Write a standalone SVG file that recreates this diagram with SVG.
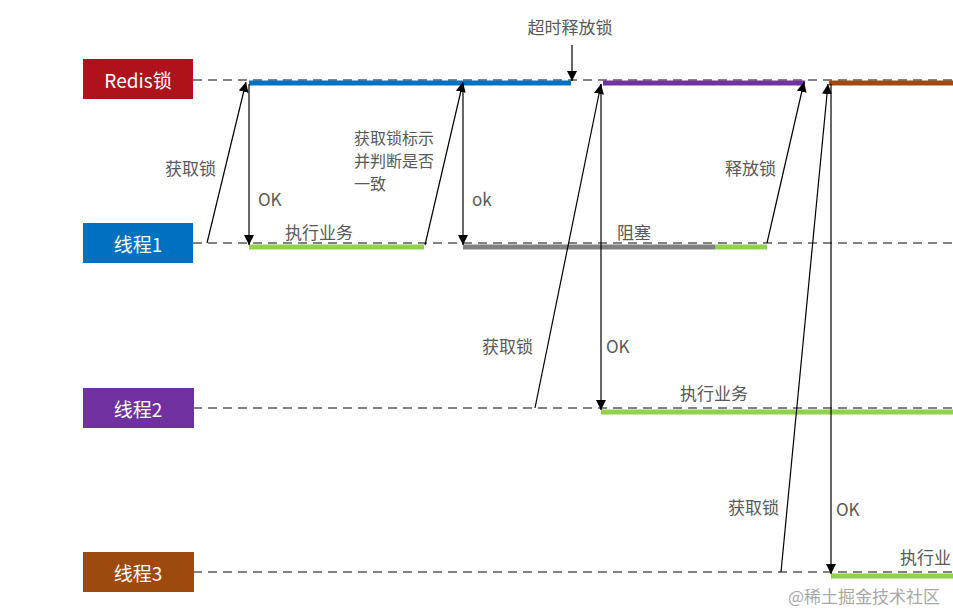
<svg xmlns="http://www.w3.org/2000/svg" width="953" height="610" viewBox="0 0 953 610">
<defs>
<marker id="ah" viewBox="0 0 10 10" refX="10" refY="5" markerWidth="10" markerHeight="10" markerUnits="userSpaceOnUse" orient="auto">
<path d="M0,0 L10,5 L0,10 z" fill="#000"/>
</marker>
<style>
.box text{font-family:"Noto Sans CJK SC","Noto Sans",sans-serif;font-size:19px;fill:#fff;text-anchor:middle;dominant-baseline:central}
.lbl{font-family:"Noto Sans CJK SC","Noto Sans",sans-serif;font-size:17px;fill:#595959;dominant-baseline:central}
.ml{font-size:16px}
.dash{stroke:#595959;stroke-width:1.5;stroke-dasharray:9,6;fill:none}
.bar{stroke-width:5;fill:none}
.arr{stroke:#000;stroke-width:1.2;fill:none;marker-end:url(#ah)}
</style>
</defs>
<rect width="953" height="610" fill="#fff"/>
<g id="redis" class="box"><rect x="83" y="59" width="110" height="40" fill="#B0121B"/><text x="138" y="79">Redis锁</text></g>
<g id="t1" class="box"><rect x="83" y="223" width="110" height="40" fill="#0070C0"/><text x="138" y="243">线程1</text></g>
<g id="t2" class="box"><rect x="83" y="388" width="111" height="40" fill="#7030A0"/><text x="138" y="408">线程2</text></g>
<g id="t3" class="box"><rect x="83" y="552" width="111" height="40" fill="#9C4A0E"/><text x="138" y="572">线程3</text></g>
<g id="connectors">
<path class="dash" d="M193,80 H953"/>
<path class="dash" d="M193,243 H953"/>
<path class="dash" d="M193,408 H953"/>
<path class="dash" d="M193,572 H953"/>
<path class="bar" stroke="#0070C0" d="M249,83 H571"/>
<path class="bar" stroke="#7030A0" d="M603,83 H805"/>
<path class="bar" stroke="#9C4A0E" d="M829,83 H953"/>
<path class="bar" stroke="#92D050" d="M249,247 H424"/>
<path class="bar" stroke="#808080" d="M463,247 H715"/>
<path class="bar" stroke="#92D050" d="M715,247 H767"/>
<path class="bar" stroke="#92D050" d="M601,412 H953"/>
<path class="bar" stroke="#92D050" d="M831,576 H953"/>
<path class="arr" d="M207,243 L246,82"/>
<path class="arr" d="M249,84 V245"/>
<path class="arr" d="M425,245 L463,82"/>
<path class="arr" d="M463,84 V245"/>
<path class="arr" d="M767,243 L804,82"/>
<path class="arr" d="M572,45 V81"/>
<path class="arr" d="M535,408 L601,84"/>
<path class="arr" d="M601,84 V410"/>
<path class="arr" d="M781,572 L828,84"/>
<path class="arr" d="M831,84 V574"/>
</g>
<g id="labels">
<text class="lbl" x="570" y="26" text-anchor="middle">超时释放锁</text>
<text class="lbl" x="165" y="167">获取锁</text>
<text class="lbl" x="258" y="198">OK</text>
<text class="lbl" x="285" y="231">执行业务</text>
<text class="lbl ml" x="354" y="137">获取锁标示</text>
<text class="lbl ml" x="354" y="160">并判断是否</text>
<text class="lbl ml" x="354" y="183">一致</text>
<text class="lbl" x="472" y="198">ok</text>
<text class="lbl" x="617" y="231">阻塞</text>
<text class="lbl" x="725" y="167">释放锁</text>
<text class="lbl" x="482" y="345">获取锁</text>
<text class="lbl" x="606" y="345">OK</text>
<text class="lbl" x="680" y="392">执行业务</text>
<text class="lbl" x="728" y="506">获取锁</text>
<text class="lbl" x="836" y="508">OK</text>
<text class="lbl" x="900" y="556">执行业</text>
<text x="788" y="595" style="font-family:'Noto Sans CJK SC',sans-serif;font-size:17px;fill:#a8a8a8;dominant-baseline:central">@稀土掘金技术社区</text>
</g>
</svg>
